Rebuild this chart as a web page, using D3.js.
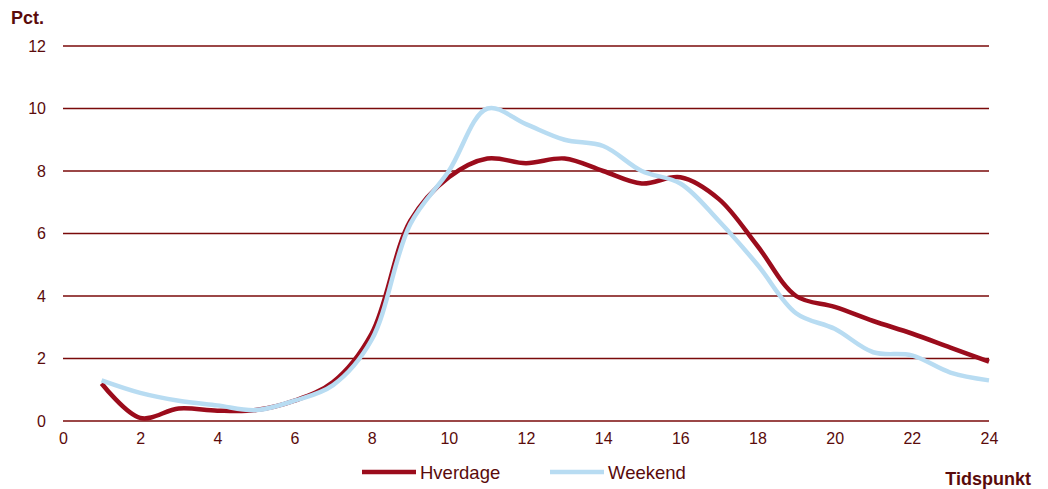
<!DOCTYPE html>
<html>
<head>
<meta charset="utf-8">
<script src="https://cdn.jsdelivr.net/npm/d3@7"></script>
<style>
  body { margin: 0; background: #fff; }
  svg { display: block; font-family: "Liberation Sans", Arial, sans-serif; }
</style>
</head>
<body>
<div id="chart"></div>
<script>
// data (hour of day, percent)
const hours = d3.range(1, 25);
const hverdage = [1.2, 0.1, 0.4, 0.33, 0.35, 0.65, 1.25, 2.8, 6.4, 7.8, 8.4, 8.25,
                  8.4, 8.0, 7.6, 7.8, 7.1, 5.6, 4.0, 3.65, 3.2, 2.8, 2.35, 1.9];
const weekend = [1.3, 0.9, 0.65, 0.5, 0.35, 0.65, 1.15, 2.6, 6.3, 8.0, 10.0, 9.5,
                 9.0, 8.8, 8.0, 7.6, 6.4, 5.0, 3.45, 2.95, 2.2, 2.1, 1.55, 1.3];
const yTicks = [0, 2, 4, 6, 8, 10, 12];
const xTicks = d3.range(0, 25, 2);

const width = 1048, height = 489;
const margin = { top: 46, right: 59, bottom: 68, left: 63 };
const textColor = "#5a0b0b";

const svg = d3.select("#chart").append("svg")
    .attr("width", width)
    .attr("height", height);

const x = d3.scaleLinear().domain([0, 24]).range([margin.left, width - margin.right]);
const y = d3.scaleLinear().domain([0, 12]).range([height - margin.bottom, margin.top]);

// gridlines
svg.append("g")
    .selectAll("line")
    .data(yTicks)
    .enter()
    .append("line")
    .attr("x1", x(0))
    .attr("x2", x(24))
    .attr("y1", d => y(d))
    .attr("y2", d => y(d))
    .attr("stroke", "#7a0a0a")
    .attr("stroke-width", 1.5);

// y axis labels
const yAxis = d3.axisLeft(y).tickValues(yTicks).tickSize(0).tickPadding(17);
svg.append("g")
    .attr("transform", "translate(" + margin.left + ",0)")
    .call(yAxis)
    .call(g => g.select(".domain").remove())
    .selectAll("text")
    .attr("font-size", 16)
    .attr("fill", textColor);

// x axis labels
const xAxis = d3.axisBottom(x).tickValues(xTicks).tickSize(0).tickPadding(12);
svg.append("g")
    .attr("transform", "translate(0," + y(0) + ")")
    .call(xAxis)
    .call(g => g.select(".domain").remove())
    .selectAll("text")
    .attr("font-size", 16)
    .attr("fill", textColor);

// lines (weekend drawn on top like the original)
const line = d3.line()
    .x((d, i) => x(hours[i]))
    .y(d => y(d))
    .curve(d3.curveCatmullRom.alpha(0.5));

svg.append("path")
    .datum(hverdage)
    .attr("d", line)
    .attr("fill", "none")
    .attr("stroke", "#9b0c1c")
    .attr("stroke-width", 4.5);

svg.append("path")
    .datum(weekend)
    .attr("d", line)
    .attr("fill", "none")
    .attr("stroke", "#b8dcf2")
    .attr("stroke-width", 4.5);

// titles
svg.append("text")
    .attr("x", 11)
    .attr("y", 24)
    .attr("font-size", 18)
    .attr("font-weight", "bold")
    .attr("fill", textColor)
    .text("Pct.");

svg.append("text")
    .attr("x", 1031)
    .attr("y", 485)
    .attr("text-anchor", "end")
    .attr("font-size", 18)
    .attr("font-weight", "bold")
    .attr("fill", textColor)
    .text("Tidspunkt");

// legend
const legend = [
    { name: "Hverdage", color: "#9b0c1c", x: 362 },
    { name: "Weekend", color: "#b8dcf2", x: 550 }
];
const lg = svg.append("g").selectAll("g")
    .data(legend)
    .enter()
    .append("g")
    .attr("transform", d => "translate(" + d.x + ",472)");
lg.append("line")
    .attr("x1", 0).attr("x2", 54)
    .attr("stroke", d => d.color)
    .attr("stroke-width", 4.5);
lg.append("text")
    .attr("x", 58)
    .attr("y", 7)
    .attr("font-size", 18.5)
    .attr("fill", textColor)
    .text(d => d.name);
</script>
</body>
</html>
